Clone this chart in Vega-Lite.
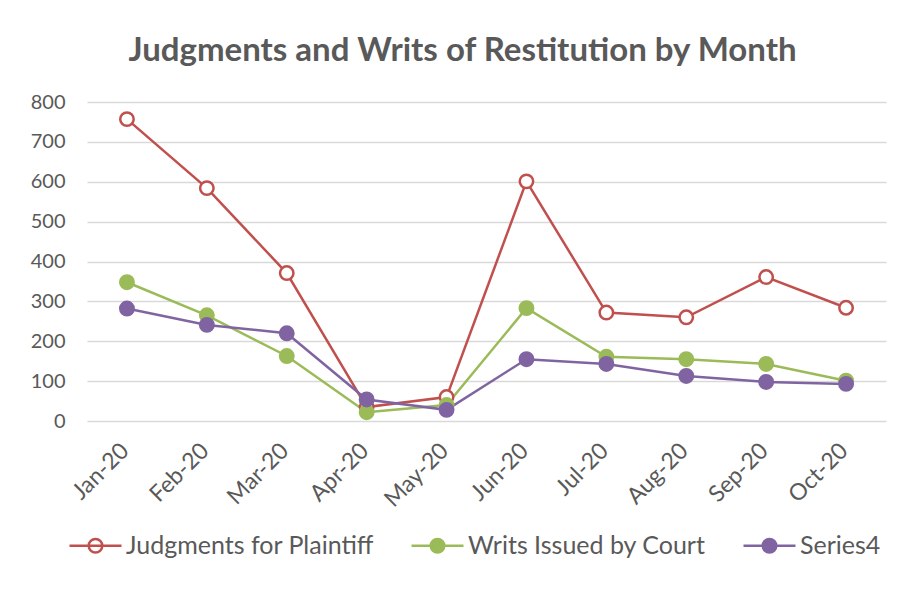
{
  "$schema": "https://vega.github.io/schema/vega-lite/v6.json",
  "width": 799,
  "height": 319,
  "autosize": "none",
  "padding": {"left": 87, "top": 102, "right": 12, "bottom": 182},
  "background": "white",
  "title": {
    "text": "Judgments and Writs of Restitution by Month",
    "font": "Lato",
    "fontSize": 33,
    "fontWeight": "bold",
    "color": "#595959",
    "anchor": "middle",
    "frame": "group",
    "baseline": "alphabetic",
    "offset": -2,
    "dx": -24
  },
  "data": {
    "values": [
      {"idx": 1, "month": "Jan-20", "series": "Judgments for Plaintiff", "value": 757},
      {"idx": 2, "month": "Feb-20", "series": "Judgments for Plaintiff", "value": 584},
      {"idx": 3, "month": "Mar-20", "series": "Judgments for Plaintiff", "value": 371},
      {"idx": 4, "month": "Apr-20", "series": "Judgments for Plaintiff", "value": 35},
      {"idx": 5, "month": "May-20", "series": "Judgments for Plaintiff", "value": 60},
      {"idx": 6, "month": "Jun-20", "series": "Judgments for Plaintiff", "value": 601},
      {"idx": 7, "month": "Jul-20", "series": "Judgments for Plaintiff", "value": 272},
      {"idx": 8, "month": "Aug-20", "series": "Judgments for Plaintiff", "value": 260},
      {"idx": 9, "month": "Sep-20", "series": "Judgments for Plaintiff", "value": 361},
      {"idx": 10, "month": "Oct-20", "series": "Judgments for Plaintiff", "value": 284},
      {"idx": 1, "month": "Jan-20", "series": "Writs Issued by Court", "value": 348},
      {"idx": 2, "month": "Feb-20", "series": "Writs Issued by Court", "value": 265},
      {"idx": 3, "month": "Mar-20", "series": "Writs Issued by Court", "value": 163},
      {"idx": 4, "month": "Apr-20", "series": "Writs Issued by Court", "value": 22},
      {"idx": 5, "month": "May-20", "series": "Writs Issued by Court", "value": 40},
      {"idx": 6, "month": "Jun-20", "series": "Writs Issued by Court", "value": 283},
      {"idx": 7, "month": "Jul-20", "series": "Writs Issued by Court", "value": 161},
      {"idx": 8, "month": "Aug-20", "series": "Writs Issued by Court", "value": 155},
      {"idx": 9, "month": "Sep-20", "series": "Writs Issued by Court", "value": 143},
      {"idx": 10, "month": "Oct-20", "series": "Writs Issued by Court", "value": 101},
      {"idx": 1, "month": "Jan-20", "series": "Series4", "value": 282},
      {"idx": 2, "month": "Feb-20", "series": "Series4", "value": 241},
      {"idx": 3, "month": "Mar-20", "series": "Series4", "value": 220},
      {"idx": 4, "month": "Apr-20", "series": "Series4", "value": 54},
      {"idx": 5, "month": "May-20", "series": "Series4", "value": 28},
      {"idx": 6, "month": "Jun-20", "series": "Series4", "value": 155},
      {"idx": 7, "month": "Jul-20", "series": "Series4", "value": 143},
      {"idx": 8, "month": "Aug-20", "series": "Series4", "value": 113},
      {"idx": 9, "month": "Sep-20", "series": "Series4", "value": 98},
      {"idx": 10, "month": "Oct-20", "series": "Series4", "value": 93}
    ]
  },
  "encoding": {
    "x": {
      "field": "month",
      "type": "ordinal",
      "sort": {"field": "idx"},
      "scale": {"paddingInner": 0, "paddingOuter": 0},
      "axis": {
        "title": null,
        "labelAngle": -45,
        "labelFont": "Lato",
        "labelFontSize": 23,
        "labelColor": "#595959",
        "labelPadding": 18,
        "labelOffset": -10,
        "ticks": false,
        "domain": false,
        "grid": false
      }
    },
    "y": {
      "field": "value",
      "type": "quantitative",
      "scale": {"domain": [0, 800], "nice": false},
      "axis": {
        "title": null,
        "values": [0, 100, 200, 300, 400, 500, 600, 700, 800],
        "labelFont": "Lato",
        "labelFontSize": 20,
        "labelColor": "#595959",
        "labelPadding": 22,
        "ticks": false,
        "domain": false,
        "grid": true,
        "gridColor": "#D9D9D9",
        "gridWidth": 1.5
      }
    },
    "stroke": {
      "field": "series",
      "type": "nominal",
      "sort": ["Judgments for Plaintiff", "Writs Issued by Court", "Series4"],
      "scale": {
        "domain": ["Judgments for Plaintiff", "Writs Issued by Court", "Series4"],
        "range": ["#C0504D", "#9BBB59", "#8064A2"]
      },
      "legend": {
        "title": null,
        "orient": "none",
        "direction": "horizontal",
        "legendX": -19,
        "legendY": 416,
        "symbolType": "M -1 0 L 1 0 M 0.26 0 A 0.26 0.26 0 1 1 -0.26 0 A 0.26 0.26 0 1 1 0.26 0 Z",
        "symbolSize": 2704,
        "symbolStrokeWidth": 2.5,
        "labelFont": "Lato",
        "labelFontSize": 25,
        "labelColor": "#595959",
        "labelOffset": 3,
        "labelLimit": 400,
        "columnPadding": 32
      }
    }
  },
  "layer": [
    {
      "mark": {"type": "line", "strokeWidth": 2.5},
      "encoding": {"order": {"field": "idx", "type": "quantitative"}}
    },
    {
      "mark": {"type": "point", "size": 180, "strokeWidth": 2.5, "opacity": 1},
      "encoding": {
        "fill": {
          "field": "series",
          "type": "nominal",
          "scale": {
            "domain": ["Judgments for Plaintiff", "Writs Issued by Court", "Series4"],
            "range": ["#FFFFFF", "#9BBB59", "#8064A2"]
          },
          "legend": {
            "title": null,
            "orient": "none",
            "direction": "horizontal",
            "legendX": -19,
            "legendY": 416,
            "symbolType": "M -1 0 L 1 0 M 0.26 0 A 0.26 0.26 0 1 1 -0.26 0 A 0.26 0.26 0 1 1 0.26 0 Z",
            "symbolSize": 2704,
            "symbolStrokeWidth": 2.5,
            "labelFont": "Lato",
            "labelFontSize": 25,
            "labelColor": "#595959",
            "labelOffset": 3,
            "labelLimit": 400,
            "columnPadding": 32
          }
        }
      }
    }
  ],
  "config": {"view": {"stroke": null}}
}
